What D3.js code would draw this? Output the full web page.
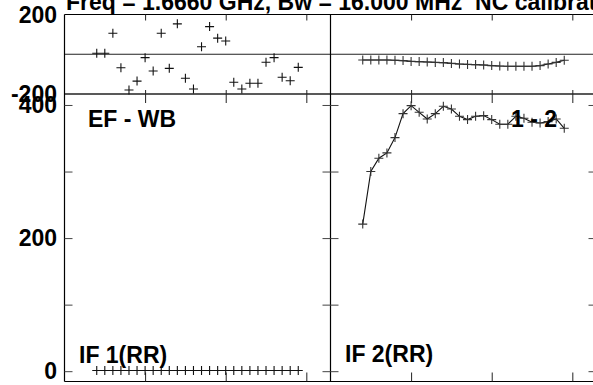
<!DOCTYPE html>
<html><head><meta charset="utf-8">
<script src="https://cdn.jsdelivr.net/npm/d3@7"></script>
<style>
html,body{margin:0;padding:0;background:#fff;}
svg{display:block;font-family:"Liberation Sans",Arial,sans-serif;font-weight:bold;}
</style></head>
<body><svg id="c" width="593" height="385"></svg>
<script>
// ---- data ----
const channels = [4,5,6,7,8,9,10,11,12,13,14,15,16,17,18,19,20,21,22,23,24,25,26,27,28,29];
const phaseIF1 = [5,5,106,-68,-180,-135,-17,-84,106,-71,153,-121,-175,38,139,81,67,-141,-175,-146,-146,-40,-17,-116,-133,-66];
const phaseIF2 = [-29,-29,-29,-29,-30,-32,-36,-37,-39,-41,-42,-46,-49,-51,-52,-54,-57,-59,-60,-60,-60,-60,-57,-49,-41,-30];
const ampIF1 = [1,1,1,1,1,1,1,1,1,1,1,1,1,1,1,1,1,1,1,1,1,1,1,1,1,1];
const ampIF2 = [221,300,320,328,351,387,399,389,379,387,398,394,383,378,383,384,378,371,371,383,380,374,373,375,379,365];
const xTicks = [10,20,30];
const phaseTickLabels = [200,-200];
const ampTicks = [0,100,200,300,400];
const ampTickLabels = [0,200,400];
const title = "Freq = 1.6660 GHz, Bw = 16.000 MHz\u00a0\u00a0NC calibration";
const baselineLabel = "EF - WB";
const pairLabel = "1 - 2";
const panelLabels = ["IF 1(RR)","IF 2(RR)"];

// ---- layout ----
const svg = d3.select("#c");
const L = 64.5, M = 330.5, R = 596.5;
const topY = 14.5, midY = 94, botY = 381.5;
const xs = [d3.scaleLinear().domain([0,33]).range([L,M]), d3.scaleLinear().domain([0,33]).range([M,R])];
const yPh = d3.scaleLinear().domain([-200,200]).range([midY,topY]);
const yAmp = d3.scaleLinear().domain([-15.5,416.5]).range([botY,midY]);

const g = svg.append("g");
// frame lines
const hl = (y, c, w) => g.append("line").attr("x1",L).attr("x2",R).attr("y1",y).attr("y2",y).attr("stroke",c).attr("stroke-width",w);
hl(topY,"#000",1.2); hl(yPh(0),"#222",1.2); hl(midY,"#222",1.4); hl(botY,"#000",1.2);
[L,M,R].forEach(x => g.append("line").attr("x1",x).attr("x2",x).attr("y1",topY).attr("y2",botY).attr("stroke","#000").attr("stroke-width",1.2));

// x ticks
xs.forEach(x => {
  const fmt = () => "";
  const a1 = g.append("g").attr("transform",`translate(0,${topY})`).call(d3.axisBottom(x).tickValues(xTicks).tickSize(6).tickFormat(fmt));
  const a2 = g.append("g").attr("transform",`translate(0,${midY})`).call(d3.axisTop(x).tickValues(xTicks).tickSize(4).tickFormat(fmt));
  const a3 = g.append("g").attr("transform",`translate(0,${midY})`).call(d3.axisBottom(x).tickValues(xTicks).tickSize(9).tickFormat(fmt));
  const a4 = g.append("g").attr("transform",`translate(0,${botY})`).call(d3.axisTop(x).tickValues(xTicks).tickSize(9).tickFormat(fmt));
  [a1,a2,a3,a4].forEach(a => { a.select(".domain").remove(); a.selectAll("line").attr("stroke","#222"); });
});
// amplitude ticks on vertical edges
[[L,"r"],[M,"l"],[M,"r"],[R,"l"]].forEach(([x,side]) => {
  const ax = side==="r" ? d3.axisRight(yAmp) : d3.axisLeft(yAmp);
  const a = g.append("g").attr("transform",`translate(${x},0)`).call(ax.tickValues(ampTicks).tickSize(8).tickFormat(() => ""));
  a.select(".domain").remove(); a.selectAll("line").attr("stroke","#444");
});

// tick labels
const lab = g.append("g").attr("font-size",23).attr("text-anchor","end").attr("fill","#000");
phaseTickLabels.forEach(v => lab.append("text").attr("x",57).attr("y",yPh(v)).attr("dy","0.36em").text(v));
ampTickLabels.forEach(v => lab.append("text").attr("x",57).attr("y",yAmp(v)).attr("dy","0.36em").text(v));

// markers
function plus(sel, xsc, ysc, xsArr, ysArr, col) {
  const d = 4.5;
  const path = xsArr.map((c,i) => {
    const px = xsc(c), py = ysc(ysArr[i]);
    return `M${px-d},${py}H${px+d}M${px},${py-d}V${py+d}`;
  }).join("");
  sel.append("path").attr("d",path).attr("stroke",col).attr("stroke-width",1.1).attr("fill","none");
}
function line(sel, xsc, ysc, xsArr, ysArr) {
  sel.append("path").attr("d", d3.line().x((c)=>xsc(c)).y((c,i)=>ysc(ysArr[i]))(xsArr))
    .attr("stroke","#111").attr("stroke-width",1.1).attr("fill","none");
}
plus(g, xs[0], yPh, channels, phaseIF1, "#111");
line(g, xs[1], yPh, channels, phaseIF2);
plus(g, xs[1], yPh, channels, phaseIF2, "#333");
plus(g, xs[0], yAmp, channels, ampIF1, "#111");
line(g, xs[1], yAmp, channels, ampIF2);
plus(g, xs[1], yAmp, channels, ampIF2, "#333");

// texts
const t = g.append("g").attr("font-size",23).attr("fill","#000");
t.append("text").attr("x",66).attr("y",10).attr("font-size",23).text(title);
t.append("text").attr("x",88).attr("y",127).text(baselineLabel);
t.append("text").attr("x",557).attr("y",127).attr("text-anchor","end").text(pairLabel);
t.append("text").attr("x",79).attr("y",363).text(panelLabels[0]);
t.append("text").attr("x",345).attr("y",362).text(panelLabels[1]);
</script></body></html>
